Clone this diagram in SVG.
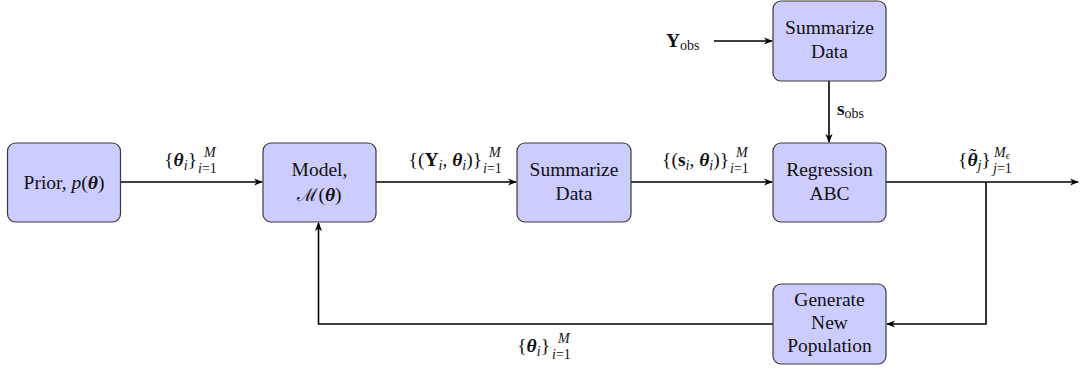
<svg xmlns="http://www.w3.org/2000/svg" width="1080" height="370" viewBox="0 0 1080 370">
<defs>
<marker id="arr" viewBox="0 0 10 10" refX="9" refY="5" markerWidth="9" markerHeight="9" markerUnits="userSpaceOnUse" orient="auto">
<path d="M0,1 L10,5 L0,9 L3,5 Z" fill="#000"/>
</marker>
<style>
.box{fill:#ccccff;stroke:#3a3a3a;stroke-width:1.2}
.lbl{font-family:"Liberation Serif",serif;font-size:19.5px;fill:#111;text-anchor:middle}
.m{font-family:"Liberation Serif",serif;font-size:19.5px;fill:#111;text-anchor:end}
.ms{font-family:"Liberation Serif",serif;font-size:19.5px;fill:#111}
.s{font-family:"Liberation Serif",serif;font-size:14px;fill:#111}
.bi{font-weight:bold;font-style:italic}
.it{font-style:italic}
.b{font-weight:bold}
.ln{fill:none;stroke:#000;stroke-width:1.6}
</style>
</defs>
<g id="connectors">
<path class="ln" d="M120,182 H262" marker-end="url(#arr)"/>
<path class="ln" d="M376,182 H516" marker-end="url(#arr)"/>
<path class="ln" d="M631,182 H772" marker-end="url(#arr)"/>
<path class="ln" d="M886,182 H1078" marker-end="url(#arr)"/>
<path class="ln" d="M714,41 H772" marker-end="url(#arr)"/>
<path class="ln" d="M829,81 V142" marker-end="url(#arr)"/>
<path class="ln" d="M986,182 V324 H887" marker-end="url(#arr)"/>
<path class="ln" d="M773,324 H318.5 V223" marker-end="url(#arr)"/>
<text class="m" x="197" y="166">{<tspan class="bi">θ</tspan><tspan class="it s" dy="4">i</tspan><tspan dy="-4">}</tspan></text>
<text class="s" x="198" y="173"><tspan class="it">i</tspan>=1</text><text class="s it" x="204" y="157">M</text>
<text class="m" x="482" y="166">{(<tspan class="b">Y</tspan><tspan class="it s" dy="4">i</tspan><tspan dy="-4">, </tspan><tspan class="bi">θ</tspan><tspan class="it s" dy="4">i</tspan><tspan dy="-4">)}</tspan></text>
<text class="s" x="483" y="173"><tspan class="it">i</tspan>=1</text><text class="s it" x="489" y="157">M</text>
<text class="m" x="729" y="166">{(<tspan class="b">s</tspan><tspan class="it s" dy="4">i</tspan><tspan dy="-4">, </tspan><tspan class="bi">θ</tspan><tspan class="it s" dy="4">i</tspan><tspan dy="-4">)}</tspan></text>
<text class="s" x="730" y="173"><tspan class="it">i</tspan>=1</text><text class="s it" x="736" y="157">M</text>
<text class="ms" x="958" y="166">{<tspan class="bi">θ</tspan><tspan class="it s" dy="4">j</tspan><tspan dy="-4">}</tspan><tspan x="973" y="162" text-anchor="middle">˜</tspan></text>
<text class="s" x="993" y="173"><tspan class="it">j</tspan>=1</text><text class="s it" x="994" y="157">M<tspan font-size="10" dy="2">ϵ</tspan></text>
<text class="ms" x="837" y="115"><tspan class="b">s</tspan><tspan class="s" dy="3">obs</tspan></text>
<text class="ms" x="666" y="47"><tspan class="b">Y</tspan><tspan class="s" dy="3">obs</tspan></text>
<text class="m" x="550" y="352">{<tspan class="bi">θ</tspan><tspan class="it s" dy="4">i</tspan><tspan dy="-4">}</tspan></text>
<text class="s" x="552" y="359"><tspan class="it">i</tspan>=1</text><text class="s it" x="558" y="343">M</text>
</g>
<g id="prior">
<rect class="box" x="7.5" y="143" width="113" height="79" rx="8"/>
<text class="lbl" x="64" y="189">Prior, <tspan class="it">p</tspan>(<tspan class="bi">θ</tspan>)</text>
</g>
<g id="model">
<rect class="box" x="263" y="143" width="113" height="79" rx="8"/>
<text class="lbl" x="319.5" y="176">Model,</text>
<text class="lbl" x="319.5" y="201"><tspan font-family="DejaVu Serif" font-size="18">ℳ</tspan>(<tspan class="bi">θ</tspan>)</text>
</g>
<g id="summarize">
<rect class="box" x="517" y="143" width="114" height="79" rx="8"/>
<text class="lbl" x="574" y="176">Summarize</text>
<text class="lbl" x="574" y="200">Data</text>
</g>
<g id="summarize-obs">
<rect class="box" x="773" y="1" width="113" height="80" rx="8"/>
<text class="lbl" x="829.5" y="34">Summarize</text>
<text class="lbl" x="829.5" y="58">Data</text>
</g>
<g id="regression">
<rect class="box" x="773" y="143" width="113" height="79" rx="8"/>
<text class="lbl" x="829.5" y="176">Regression</text>
<text class="lbl" x="829.5" y="200">ABC</text>
</g>
<g id="generate">
<rect class="box" x="773" y="284" width="113" height="80" rx="8"/>
<text class="lbl" x="829.5" y="306">Generate</text>
<text class="lbl" x="829.5" y="329">New</text>
<text class="lbl" x="829.5" y="352">Population</text>
</g>
</svg>
